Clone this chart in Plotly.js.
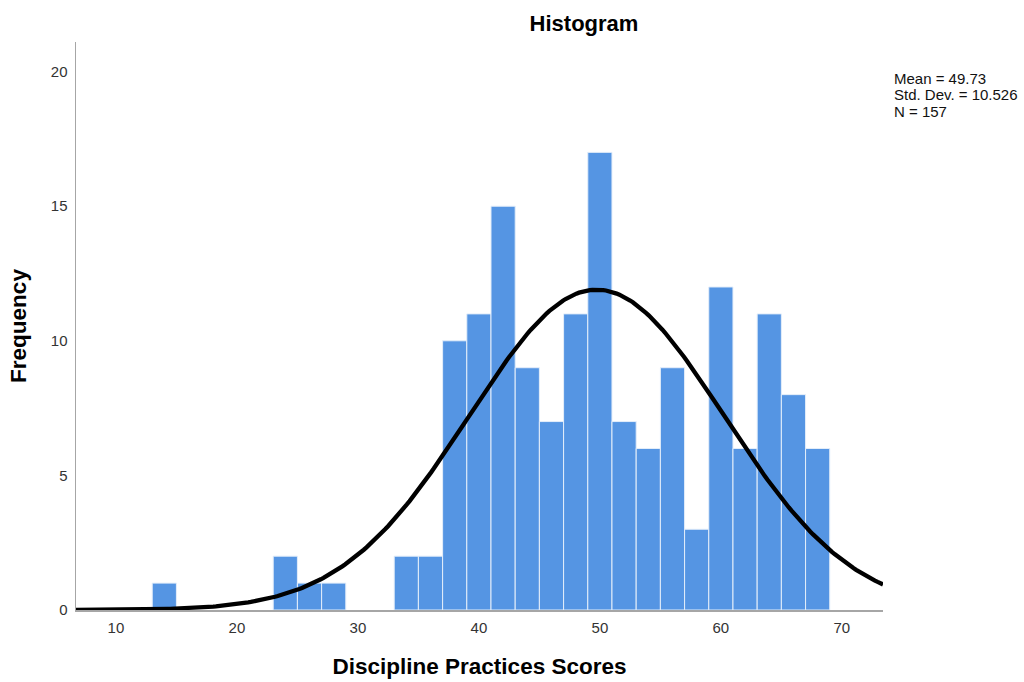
<!DOCTYPE html>
<html>
<head>
<meta charset="utf-8">
<script src="https://cdn.plot.ly/plotly-3.0.1.min.js"></script>
<style>
  html, body { margin: 0; padding: 0; background: #fff; }
  #chart { width: 1024px; height: 682px; }
</style>
</head>
<body>
<div id="chart"></div>
<script>
// Histogram of Discipline Practices Scores (bin width 2)
const binStarts = [13, 23, 25, 27, 33, 35, 37, 39, 41, 43, 45, 47, 49, 51, 53, 55, 57, 59, 61, 63, 65, 67];
const frequencies = [1, 2, 1, 1, 2, 2, 10, 11, 15, 9, 7, 11, 17, 7, 6, 9, 3, 12, 6, 11, 8, 6];
const binWidth = 2;

// Summary statistics shown beside the plot
const mean = 49.73;
const stdDev = 10.526;
const n = 157;
const statLines = ['Mean = ' + mean, 'Std. Dev. = ' + stdDev, 'N = ' + n];

const xTicks = [10, 20, 30, 40, 50, 60, 70];
const yTicks = [0, 5, 10, 15, 20];
const xRange = [6.7, 73.4];
const yRange = [0, 21.1];

// Fitted normal curve, scaled to counts per bin
const curveX = [];
const curveY = [];
for (let i = 0; i <= 300; i++) {
  const x = xRange[0] + (xRange[1] - xRange[0]) * i / 300;
  const z = (x - mean) / stdDev;
  curveX.push(x);
  curveY.push(n * binWidth * Math.exp(-0.5 * z * z) / (stdDev * Math.sqrt(2 * Math.PI)));
}

const bars = {
  type: 'bar',
  x: binStarts.map(s => s + binWidth / 2),
  y: frequencies,
  width: binStarts.map(() => binWidth),
  marker: { color: '#5595E3', line: { color: '#E4EEFA', width: 1 } },
  hoverinfo: 'x+y',
  showlegend: false
};

const curve = {
  type: 'scatter',
  mode: 'lines',
  x: curveX,
  y: curveY,
  line: { color: '#000000', width: 4.3 },
  hoverinfo: 'skip',
  showlegend: false,
  cliponaxis: false
};

const font = 'Liberation Sans, Arial, sans-serif';
const plotLeft = 76, plotRight = 883, plotTop = 42, plotBottom = 610;

const layout = {
  width: 1024,
  height: 682,
  margin: { l: plotLeft, r: 1024 - plotRight, t: plotTop, b: 682 - plotBottom },
  paper_bgcolor: '#ffffff',
  plot_bgcolor: '#ffffff',
  font: { family: font, color: '#222' },
  title: {
    text: '<b>Histogram</b>',
    font: { family: font, size: 22, color: '#000' },
    x: 584 / 1024, xanchor: 'center', xref: 'container',
    y: 1 - 23 / 682, yanchor: 'middle', yref: 'container'
  },
  xaxis: {
    range: xRange,
    tickvals: xTicks,
    ticktext: xTicks.map(String),
    showgrid: false,
    zeroline: false,
    showline: true,
    linecolor: '#A6A6A6',
    linewidth: 1.5,
    ticks: '',
    ticklabelstandoff: 3,
    tickfont: { family: font, size: 15, color: '#333' },
    title: {
      text: '<b>Discipline Practices Scores</b>',
      font: { family: font, size: 22.5, color: '#000' },
      standoff: 23
    }
  },
  yaxis: {
    range: yRange,
    tickvals: yTicks,
    ticktext: yTicks.map(String),
    showgrid: false,
    zeroline: false,
    showline: true,
    linecolor: '#A6A6A6',
    linewidth: 1.5,
    ticks: '',
    ticklabelstandoff: 4,
    tickfont: { family: font, size: 15, color: '#333' },
    title: {
      text: '<b>Frequency</b>',
      font: { family: font, size: 22.5, color: '#000' },
      standoff: 18
    }
  },
  annotations: statLines.map((line, i) => ({
    xref: 'paper', yref: 'paper',
    x: (893 - plotLeft) / (plotRight - plotLeft),
    y: (plotBottom - (78 + i * 16.5)) / (plotBottom - plotTop),
    xanchor: 'left', yanchor: 'middle',
    align: 'left',
    showarrow: false,
    xshift: -1,
    text: line,
    font: { family: font, size: 15, color: '#111' }
  })),
  bargap: 0
};

Plotly.newPlot('chart', [bars, curve], layout, { displayModeBar: false, staticPlot: true });
</script>
</body>
</html>
